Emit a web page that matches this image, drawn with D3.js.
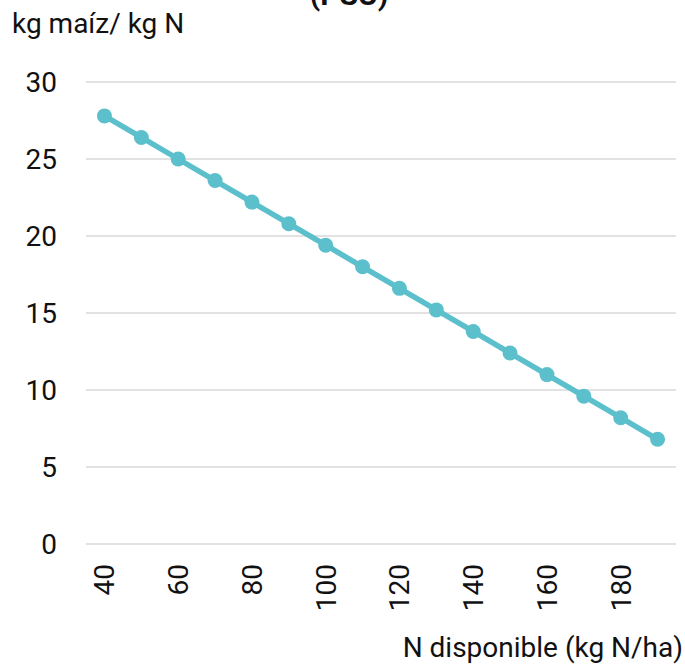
<!DOCTYPE html>
<html><head><meta charset="utf-8">
<script src="https://cdn.jsdelivr.net/npm/d3@7"></script>
<style>body{margin:0;background:#fff}svg{display:block}text{font-family:Roboto,"Noto Sans",sans-serif;fill:#111}</style>
</head><body><svg id="c" width="685" height="664"></svg>
<script>
const categories = [40,50,60,70,80,90,100,110,120,130,140,150,160,170,180,190];
const values = [27.8,26.4,25.0,23.6,22.2,20.8,19.4,18.0,16.6,15.2,13.8,12.4,11.0,9.6,8.2,6.8];
const yTicks = [0,5,10,15,20,25,30];
const xTickLabels = [40,60,80,100,120,140,160,180];

(function(){
const svg = d3.select("#c");
const mL = 86, mR = 676, mT = 82, mB = 544;
const x = d3.scaleBand().domain(categories).range([mL, mR]);
const y = d3.scaleLinear().domain([0,30]).range([mB, mT]);
const FS = 28;

svg.append("g").selectAll("line").data(yTicks).join("line")
  .attr("x1", mL).attr("x2", mR)
  .attr("y1", d=>y(d)).attr("y2", d=>y(d))
  .attr("stroke", "#d9d9d9").attr("stroke-width", 1.5);

svg.append("g").selectAll("text").data(yTicks).join("text")
  .attr("x", 57).attr("y", d=>y(d)).attr("dy","0.36em")
  .attr("text-anchor","end").attr("font-size", FS).text(d=>d);

const cx = d=>x(d)+x.bandwidth()/2;
svg.append("g").selectAll("text").data(xTickLabels).join("text")
  .attr("transform", d=>`translate(${cx(d)+10},564) rotate(-90)`)
  .attr("text-anchor","end").attr("font-size", FS).text(d=>d);

svg.append("path").datum(categories.map((c,i)=>[cx(c), y(values[i])]))
  .attr("d", d3.line()).attr("fill","none").attr("stroke","#5bc0cc").attr("stroke-width",5.5).attr("stroke-linejoin","round");
svg.append("g").selectAll("circle").data(categories).join("circle")
  .attr("cx", cx).attr("cy", (d,i)=>y(values[i])).attr("r", 7.5).attr("fill","#5bc0cc");

svg.append("text").attr("x", 349).attr("y", 5).attr("text-anchor","middle")
  .attr("font-size", 30).attr("font-weight","bold").text("(PSU)");
svg.append("text").attr("x", 12).attr("y", 33).attr("font-size", FS).text("kg maíz/ kg N");
svg.append("text").attr("x", 683).attr("y", 657).attr("text-anchor","end").attr("font-size", FS).text("N disponible (kg N/ha)");
})();
</script></body></html>
